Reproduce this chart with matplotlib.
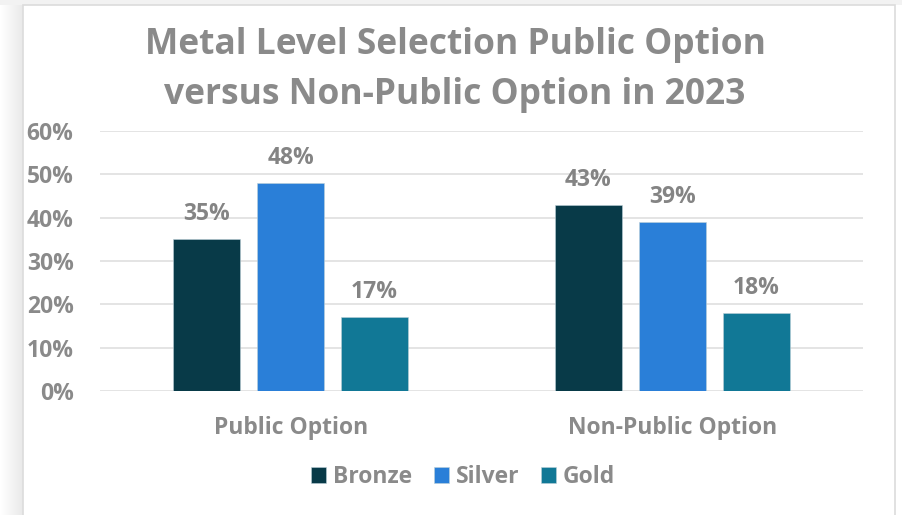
import numpy as np
import matplotlib.pyplot as plt
from matplotlib.patches import Rectangle

categories = ['Public Option', 'Non-Public Option']
series = ['Bronze', 'Silver', 'Gold']
bronze = [35, 43]
silver = [48, 39]
gold = [17, 18]
y_ticks = [0, 10, 20, 30, 40, 50, 60]

colors = ['#083a48', '#2a7fd8', '#117896']
txt = '#8a8a8a'

plt.rcParams['font.family'] = ['Open Sans', 'DejaVu Sans']
plt.rcParams['font.weight'] = 'bold'

W, H = 902, 515
fig = plt.figure(figsize=(W / 100, H / 100), dpi=100)

# soft shadow down the left side, then the white chart card
bg = fig.add_axes([0, 0, 1, 1], zorder=-10)
bg.set_axis_off()
shade = 1 - 0.09 * np.clip(np.arange(W) / 23.0, 0, 1)
shade[23:] = 1
grad = np.repeat(shade[None, :, None], 3, axis=2).repeat(2, axis=0)
bg.imshow(grad, extent=[0, W, 0, H], aspect='auto')
bg.add_patch(Rectangle((0, H - 5), W, 5, color='#f2f2f2', lw=0))
bg.add_patch(Rectangle((23, -10), 872, H - 5 + 10, facecolor='white',
                       edgecolor='#dcdcdc', lw=1.2))
bg.set_xlim(0, W)
bg.set_ylim(0, H)

ax = fig.add_axes([100 / W, 1 - 391 / H, 763 / W, 260 / H])
ax.set_facecolor('none')

x = np.arange(len(categories))
width = 0.1756
step = 0.22
for i, (name, vals) in enumerate(zip(series, [bronze, silver, gold])):
    pos = x + (i - 1) * step
    bars = ax.bar(pos, vals, width, color=colors[i], label=name, zorder=3,
                  edgecolor='#bcd0d8', linewidth=0.4)
    for b, v in zip(bars, vals):
        ax.annotate(f'{v}%', (b.get_x() + b.get_width() / 2, v),
                    xytext=(0, 25), textcoords='offset pixels',
                    ha='center', va='center', fontsize=16.5, color='#848484',
                    fontweight='bold')

ax.set_xlim(-0.5, 1.5)
ax.set_ylim(0, 60)
ax.set_yticks(y_ticks)
ax.set_yticklabels([f'{t}%' for t in y_ticks])
ax.set_xticks(x)
ax.set_xticklabels(categories)
ax.tick_params(axis='y', length=0, pad=19, labelsize=16.5, labelcolor=txt)
ax.tick_params(axis='x', length=0, pad=18, labelsize=16.5, labelcolor=txt)
ax.grid(axis='y', color='#e2e2e2', lw=1.3, zorder=0)
for s in ax.spines.values():
    s.set_visible(False)

fig.text(455 / W, 1 - 45 / H, 'Metal Level Selection Public Option',
         ha='center', va='center', fontsize=25.5, color=txt, fontweight='bold')
fig.text(455 / W, 1 - 95 / H, 'versus Non-Public Option in 2023',
         ha='center', va='center', fontsize=25.5, color=txt, fontweight='bold')

handles, labels = ax.get_legend_handles_labels()
fig.legend(handles, labels, loc='center', bbox_to_anchor=(463 / W, 1 - 477 / H),
           ncol=3, frameon=False, fontsize=16.5, labelcolor=txt,
           handlelength=0.65, handleheight=0.65, handletextpad=0.3,
           columnspacing=0.95)

fig.savefig('out.png', dpi=100)
